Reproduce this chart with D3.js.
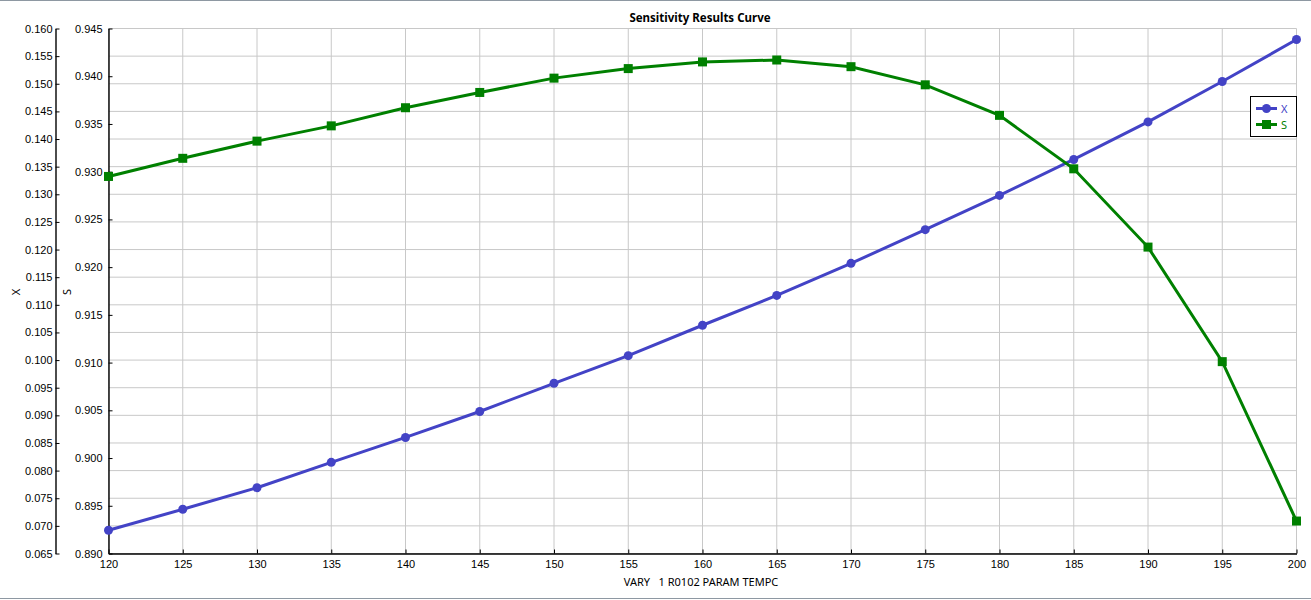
<!DOCTYPE html>
<html>
<head>
<meta charset="utf-8">
<script src="https://cdn.jsdelivr.net/npm/d3@7"></script>
<style>
  body { margin: 0; background: #fff; }
  svg { display: block; font-family: "Noto Sans", "Open Sans", sans-serif; }
  .tick text { font-size: 11px; fill: #000; }
  .grid line { stroke: #c8c8c8; stroke-width: 1; }
</style>
</head>
<body>
<div id="viz"></div>
<script>

// data
const temps = [120, 125, 130, 135, 140, 145, 150, 155, 160, 165, 170, 175, 180, 185, 190, 195, 200];
const xValues = [0.0692, 0.0730, 0.0769, 0.0815, 0.0860, 0.0907, 0.0958, 0.1008, 0.1063, 0.1117,
                 0.1175, 0.1236, 0.1298, 0.1363, 0.1431, 0.1504, 0.1580];
const sValues = [0.9295, 0.9314, 0.9332, 0.9348, 0.9367, 0.9383, 0.9398, 0.9408, 0.9415, 0.9417,
                 0.9410, 0.9391, 0.9359, 0.9303, 0.9221, 0.9101, 0.8934];
const xTicks = d3.range(0.065, 0.1601, 0.005);
const sTicks = d3.range(0.890, 0.9451, 0.005);
const tempTicks = d3.range(120, 201, 5);

const W = 1311, H = 600;
const plot = { left: 108.5, right: 1296.5, top: 28.5, bottom: 553.5 };
const xAxisPos = 55.5;

const svg = d3.select("#viz").append("svg")
    .attr("width", W)
    .attr("height", H);

// frame lines of the window
svg.append("line").attr("x1", 0).attr("x2", W).attr("y1", 0.5).attr("y2", 0.5)
    .attr("stroke", "#8e98a2");
svg.append("line").attr("x1", 0).attr("x2", W).attr("y1", 598.5).attr("y2", 598.5)
    .attr("stroke", "#8e98a2");

const scaleT = d3.scaleLinear([120, 200], [plot.left, plot.right]);
const scaleX = d3.scaleLinear([0.065, 0.160], [plot.bottom, plot.top]);
const scaleS = d3.scaleLinear([0.890, 0.945], [plot.bottom, plot.top]);

// grid
const grid = svg.append("g").attr("class", "grid");
grid.selectAll(".v").data(tempTicks).join("line")
    .attr("x1", d => scaleT(d)).attr("x2", d => scaleT(d))
    .attr("y1", plot.top).attr("y2", plot.bottom);
grid.selectAll(".h").data(xTicks).join("line")
    .attr("x1", plot.left).attr("x2", plot.right)
    .attr("y1", d => scaleX(d)).attr("y2", d => scaleX(d));

// axes
const axisFmt = d3.format(".3f");

svg.append("g")
    .attr("transform", `translate(0,${plot.bottom})`)
    .call(d3.axisBottom(scaleT).tickValues(tempTicks).tickSizeInner(-4).tickSizeOuter(0).tickPadding(7))
    .call(g => g.select(".domain").attr("stroke", "#000").attr("stroke-width", 1.4));

svg.append("g")
    .attr("transform", `translate(${plot.left},0)`)
    .call(d3.axisLeft(scaleS).tickValues(sTicks).tickFormat(axisFmt).tickSizeInner(-4).tickSizeOuter(0).tickPadding(6))
    .call(g => g.select(".domain").attr("stroke", "#000").attr("stroke-width", 1.4));

svg.append("g")
    .attr("transform", `translate(${xAxisPos},0)`)
    .call(d3.axisLeft(scaleX).tickValues(xTicks).tickFormat(axisFmt).tickSizeInner(-4).tickSizeOuter(0).tickPadding(3))
    .call(g => g.select(".domain").attr("stroke", "#000").attr("stroke-width", 1.4));

// axis titles
svg.append("text")
    .attr("transform", `translate(20,292) rotate(-90)`)
    .attr("text-anchor", "middle")
    .attr("font-size", 11)
    .text("X");
svg.append("text")
    .attr("transform", `translate(71,292) rotate(-90)`)
    .attr("text-anchor", "middle")
    .attr("font-size", 11)
    .text("S");
svg.append("text")
    .attr("x", 701).attr("y", 586)
    .attr("text-anchor", "middle")
    .attr("font-size", 11)
    .style("white-space", "pre")
    .text("VARY   1 R0102 PARAM TEMPC");

// title
svg.append("text")
    .attr("x", 700).attr("y", 22)
    .attr("text-anchor", "middle")
    .attr("font-size", 11.5)
    .attr("font-weight", "bold")
    .text("Sensitivity Results Curve");

// series
const blue = "#4343c6", green = "#008000";

const lineX = d3.line().x((d, i) => scaleT(temps[i])).y(d => scaleX(d));
const lineS = d3.line().x((d, i) => scaleT(temps[i])).y(d => scaleS(d));

svg.append("path").datum(xValues)
    .attr("d", lineX).attr("fill", "none")
    .attr("stroke", blue).attr("stroke-width", 3);
svg.selectAll(".ptx").data(xValues).join("circle")
    .attr("cx", (d, i) => scaleT(temps[i])).attr("cy", d => scaleX(d))
    .attr("r", 4.5).attr("fill", blue);

svg.append("path").datum(sValues)
    .attr("d", lineS).attr("fill", "none")
    .attr("stroke", green).attr("stroke-width", 3);
svg.selectAll(".pts").data(sValues).join("rect")
    .attr("x", (d, i) => scaleT(temps[i]) - 4.5).attr("y", d => scaleS(d) - 4.5)
    .attr("width", 9).attr("height", 9).attr("fill", green);

// legend
const legend = svg.append("g");
legend.append("rect")
    .attr("x", 1250.5).attr("y", 96.5).attr("width", 46).attr("height", 40)
    .attr("fill", "#fff").attr("stroke", "#000");
const items = [{ name: "X", color: blue, shape: "circle" }, { name: "S", color: green, shape: "square" }];
items.forEach((it, i) => {
    const y = 108.5 + i * 16;
    legend.append("line").attr("x1", 1256).attr("x2", 1277).attr("y1", y).attr("y2", y)
        .attr("stroke", it.color).attr("stroke-width", 3);
    if (it.shape === "circle") {
        legend.append("circle").attr("cx", 1266.5).attr("cy", y).attr("r", 4.5).attr("fill", it.color);
    } else {
        legend.append("rect").attr("x", 1262).attr("y", y - 4.5).attr("width", 9).attr("height", 9).attr("fill", it.color);
    }
    legend.append("text").attr("x", 1281).attr("y", y + 4)
        .attr("font-size", 11).attr("fill", it.color).text(it.name);
});

</script>
</body>
</html>
